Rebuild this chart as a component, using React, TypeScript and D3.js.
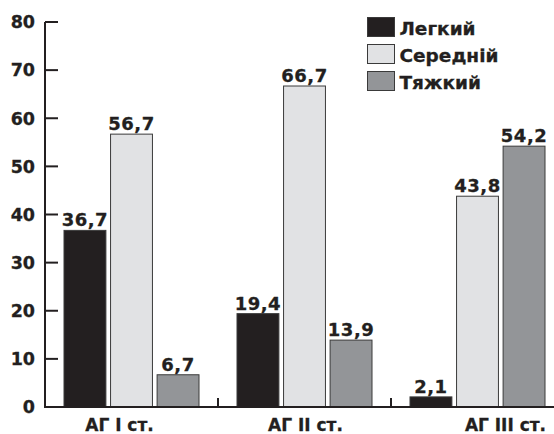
import React from "react";
import * as d3 from "d3";

const categories = ["АГ I ст.", "АГ II ст.", "АГ III ст."];
const seriesNames = ["Легкий", "Середній", "Тяжкий"];
const legkyi = [36.7, 19.4, 2.1];
const seredniy = [56.7, 66.7, 43.8];
const tyazhkyi = [6.7, 13.9, 54.2];
const yTicks = [0, 10, 20, 30, 40, 50, 60, 70, 80];
const colors = ["#231f20", "#e1e2e4", "#939598"];
const labelShift = [-12, 1, 28];

const W = 554;
const H = 434;
const FONT = "'DejaVu Sans', 'Liberation Sans', Arial, sans-serif";
const TXT = { fill: "#231f20", stroke: "#231f20", strokeWidth: 0.3 };

export default function App() {
  const series = [legkyi, seredniy, tyazhkyi];
  const y = d3.scaleLinear().domain([0, 80]).range([407, 22]);
  const x0 = d3.scaleBand<string>().domain(categories).range([45, 564]).paddingInner(0).paddingOuter(0);
  const x1 = d3
    .scaleBand<string>()
    .domain(seriesNames)
    .range([19, x0.bandwidth() - 19])
    .paddingInner(0.1)
    .paddingOuter(0);
  const fmt = (v: number) => v.toFixed(1).replace(".", ",");

  return (
    <svg
      width={W}
      height={H}
      style={{ position: "absolute", left: 0, top: 0 }}
      fontFamily={FONT}
    >
      <rect width={W} height={H} fill="#fff" />
      {/* bars */}
      {categories.map((c, ci) =>
        seriesNames.map((s, si) => {
          const v = series[si][ci];
          const bx = (x0(c) as number) + (x1(s) as number);
          const bw = x1.bandwidth();
          return (
            <g key={c + s}>
              <rect
                x={bx}
                y={y(v)}
                width={bw}
                height={y(0) - y(v)}
                fill={colors[si]}
                stroke="#3a3a3a"
                strokeWidth={1}
              />
              <text
                x={bx + bw / 2}
                y={y(v) - 4}
                textAnchor="middle"
                fontSize={18}
                fontWeight="bold"
                letterSpacing={0.5}
                {...TXT}
              >
                {fmt(v)}
              </text>
            </g>
          );
        })
      )}
      {/* y axis */}
      <line x1={45} x2={45} y1={y(80)} y2={y(0)} stroke="#231f20" strokeWidth={2} />
      {yTicks.map((t) => (
        <g key={t}>
          <line x1={45} x2={58} y1={y(t)} y2={y(t)} stroke="#231f20" strokeWidth={2} />
          <text
            x={35}
            y={y(t)}
            dy="0.36em"
            textAnchor="end"
            fontSize={17.5}
            fontWeight="bold"
            {...TXT}
          >
            {t}
          </text>
        </g>
      ))}
      {/* x axis */}
      <line x1={44} x2={W} y1={y(0)} y2={y(0)} stroke="#231f20" strokeWidth={2} />
      {categories.slice(1).map((c) => (
        <line
          key={"sep" + c}
          x1={x0(c) as number}
          x2={x0(c) as number}
          y1={y(0)}
          y2={y(0) - 9}
          stroke="#231f20"
          strokeWidth={2}
        />
      ))}
      {categories.map((c, i) => (
        <text
          key={"lab" + c}
          x={(x0(c) as number) + x0.bandwidth() / 2 + labelShift[i]}
          y={431}
          textAnchor="middle"
          fontSize={17}
          fontWeight="bold"
          {...TXT}
        >
          {c}
        </text>
      ))}
      {/* legend */}
      {seriesNames.map((s, i) => (
        <g key={"leg" + s} transform={`translate(367.5, ${17.5 + i * 27})`}>
          <rect width={27} height={19} fill={colors[i]} stroke="#3a3a3a" strokeWidth={1} />
          <text x={32} y={17.5} fontSize={18.5} fontWeight="bold" {...TXT}>
            {s}
          </text>
        </g>
      ))}
    </svg>
  );
}
